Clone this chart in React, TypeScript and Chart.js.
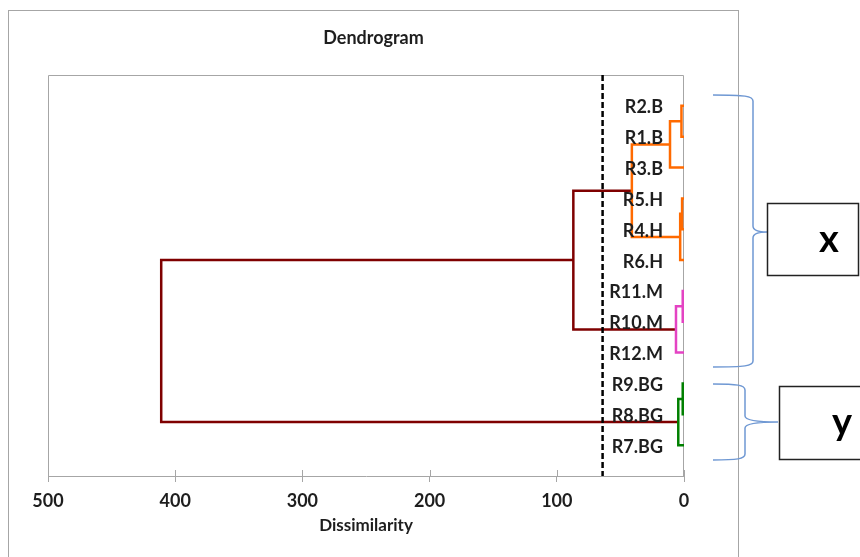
import React, { useEffect, useRef } from "react";
import { Chart, registerables } from "chart.js";

Chart.register(...registerables);

// ---------------- DATA ----------------
const chartTitle = "Dendrogram";
const xTitle = "Dissimilarity";
const xMin = 0;
const xMax = 500;
const xStep = 100;

// leaves, top to bottom
const leafLabels = [
  "R2.B", "R1.B", "R3.B", "R5.H", "R4.H", "R6.H",
  "R11.M", "R10.M", "R12.M", "R9.BG", "R8.BG", "R7.BG",
];

// agglomeration steps: node N<i> joins mergeLeft[i] and mergeRight[i] at mergeHeight[i]
const mergeLeft = ["R2.B", "N0", "R5.H", "N2", "N1", "R11.M", "N5", "N4", "R9.BG", "N8", "N7"];
const mergeRight = ["R1.B", "R3.B", "R4.H", "R6.H", "N3", "R10.M", "R12.M", "N6", "R8.BG", "R7.BG", "N9"];
const mergeHeight = [2, 11, 1.5, 3, 41, 1, 6.3, 87, 1, 4.5, 411];
const mergeGroup = ["BH", "BH", "BH", "BH", "BH", "M", "M", "top", "BG", "BG", "top"];

// truncation level (dashed line)
const cutLevel = 64;

// annotation groups on the right
const groupNames = ["x", "y"];

// ---------------- STYLE ----------------
const TEXT = "#1e1e1e";
const GRAY = "#a6a6a6";
const BRACE = "#6f98d3";
const FONT = "Lato, 'Open Sans', sans-serif";
const groupColor: Record<string, string> = {
  BH: "#ff6a00",
  M: "#e443c3",
  BG: "#008000",
  top: "#7f0000",
};

// ---------------- BUILD ----------------
function buildDatasets() {
  const pos: Record<string, { x: number; y: number }> = {};
  leafLabels.forEach((l, i) => (pos[l] = { x: 0, y: i + 1 }));
  const ds: any[] = [];
  mergeLeft.forEach((a, i) => {
    const b = mergeRight[i];
    const h = mergeHeight[i];
    const pa = pos[a];
    const pb = pos[b];
    pos["N" + i] = { x: h, y: (pa.y + pb.y) / 2 };
    ds.push({
      label: "N" + i,
      data: [
        { x: pa.x, y: pa.y },
        { x: h, y: pa.y },
        { x: h, y: pb.y },
        { x: pb.x, y: pb.y },
      ],
      borderColor: groupColor[mergeGroup[i]],
      borderWidth: 2.5,
      showLine: true,
      pointRadius: 0,
      borderCapStyle: "butt",
      borderJoinStyle: "miter",
    });
  });
  // cut line drawn on top
  ds.unshift({
    label: "cut",
    data: [
      { x: cutLevel, y: 0 },
      { x: cutLevel, y: leafLabels.length + 1 },
    ],
    borderColor: "#000",
    borderWidth: 2.5,
    borderDash: [6, 3],
    showLine: true,
    pointRadius: 0,
  });
  return ds;
}

function drawBrace(ctx: CanvasRenderingContext2D, x0: number, xb: number, xc: number, top: number, mid: number, bottom: number) {
  const r = 6;
  ctx.beginPath();
  ctx.moveTo(x0, top);
  ctx.bezierCurveTo(xb - 8, top, xb, top + 1, xb, top + r);
  ctx.lineTo(xb, mid - r);
  ctx.quadraticCurveTo(xb, mid, xc, mid);
  ctx.quadraticCurveTo(xb, mid, xb, mid + r);
  ctx.lineTo(xb, bottom - r);
  ctx.bezierCurveTo(xb, bottom - 1, xb - 8, bottom, x0, bottom);
  ctx.stroke();
}

const decor = {
  id: "decor",
  beforeDraw(chart: any) {
    const ctx = chart.ctx as CanvasRenderingContext2D;
    ctx.save();
    ctx.fillStyle = "#fff";
    ctx.fillRect(0, 0, chart.width, chart.height);
    ctx.strokeStyle = GRAY;
    ctx.lineWidth = 1;
    ctx.strokeRect(8.5, 10.5, 730, 620);
    ctx.fillStyle = TEXT;
    ctx.font = `bold 18px ${FONT}`;
    ctx.textAlign = "center";
    ctx.textBaseline = "alphabetic";
    ctx.fillText(chartTitle, 373.5, 44);
    ctx.restore();
  },
  beforeDatasetsDraw(chart: any) {
    const ctx = chart.ctx as CanvasRenderingContext2D;
    const { left, top, right, bottom } = chart.chartArea;
    const xs = chart.scales.x;
    ctx.save();
    ctx.strokeStyle = GRAY;
    ctx.lineWidth = 1;
    ctx.beginPath();
    ctx.moveTo(left + 0.5, bottom);
    ctx.lineTo(left + 0.5, top + 0.5);
    ctx.lineTo(right - 0.5, top + 0.5);
    ctx.lineTo(right - 0.5, bottom);
    xs.ticks.forEach((t: any) => {
      const px = Math.round(xs.getPixelForValue(t.value)) + 0.5;
      ctx.moveTo(px, bottom - 6);
      ctx.lineTo(px, bottom);
    });
    ctx.stroke();
    ctx.restore();
  },
  afterDatasetsDraw(chart: any) {
    const ctx = chart.ctx as CanvasRenderingContext2D;
    const xs = chart.scales.x;
    const ys = chart.scales.y;
    ctx.save();
    ctx.fillStyle = TEXT;
    ctx.font = `bold 18px ${FONT}`;
    ctx.textAlign = "right";
    ctx.textBaseline = "alphabetic";
    const xr = xs.getPixelForValue(0) - 21;
    leafLabels.forEach((l, i) => {
      ctx.fillText(l, xr, ys.getPixelForValue(i + 1) + 7.5);
    });
    ctx.restore();
  },
  afterDraw(chart: any) {
    const ctx = chart.ctx as CanvasRenderingContext2D;
    ctx.save();
    ctx.strokeStyle = BRACE;
    ctx.lineWidth = 1.5;
    drawBrace(ctx, 713, 753, 767, 95, 232, 367);
    drawBrace(ctx, 713, 745, 778, 384, 422, 460);
    ctx.strokeStyle = "#222";
    ctx.lineWidth = 1.5;
    ctx.strokeRect(767.5, 203.5, 91, 72);
    ctx.strokeRect(779.5, 386.5, 100, 73);
    ctx.fillStyle = "#000";
    ctx.font = `bold 38px ${FONT}`;
    ctx.textAlign = "center";
    ctx.textBaseline = "alphabetic";
    ctx.fillText(groupNames[0], 829, 252);
    ctx.fillText(groupNames[1], 842, 435);
    ctx.restore();
  },
};

export default function App() {
  const ref = useRef<HTMLCanvasElement | null>(null);
  useEffect(() => {
    if (!ref.current) return;
    const chart = new Chart(ref.current, {
      type: "scatter",
      data: { datasets: buildDatasets() },
      options: {
        animation: false,
        responsive: false,
        devicePixelRatio: 1,
        layout: { padding: { left: 48, top: 75, right: 176, bottom: 21 } },
        plugins: {
          legend: { display: false },
          tooltip: { enabled: false },
          title: { display: false },
        },
        elements: { line: { tension: 0 } },
        scales: {
          x: {
            type: "linear",
            reverse: true,
            min: xMin,
            max: xMax,
            ticks: {
              stepSize: xStep,
              color: TEXT,
              padding: 8,
              font: { family: FONT, size: 18, weight: "bold" },
            },
            grid: {
              drawOnChartArea: false,
              drawTicks: true,
              tickLength: 6,
              color: GRAY,
              lineWidth: 1,
            },
            border: { display: true, color: GRAY, width: 1 },
            title: {
              display: true,
              text: xTitle,
              color: TEXT,
              font: { family: FONT, size: 17, weight: "bold" },
              padding: { top: 0, bottom: 0 },
            },
            afterFit: (s: any) => {
              s.height = 60;
            },
          },
          y: {
            type: "linear",
            display: false,
            reverse: true,
            min: 0,
            max: leafLabels.length + 1,
          },
        },
      },
      plugins: [decor],
    } as any);
    return () => chart.destroy();
  }, []);
  return (
    <div style={{ position: "absolute", left: 0, top: 0, width: 860, height: 557 }}>
      <canvas ref={ref} width={860} height={557} style={{ display: "block" }} />
    </div>
  );
}
